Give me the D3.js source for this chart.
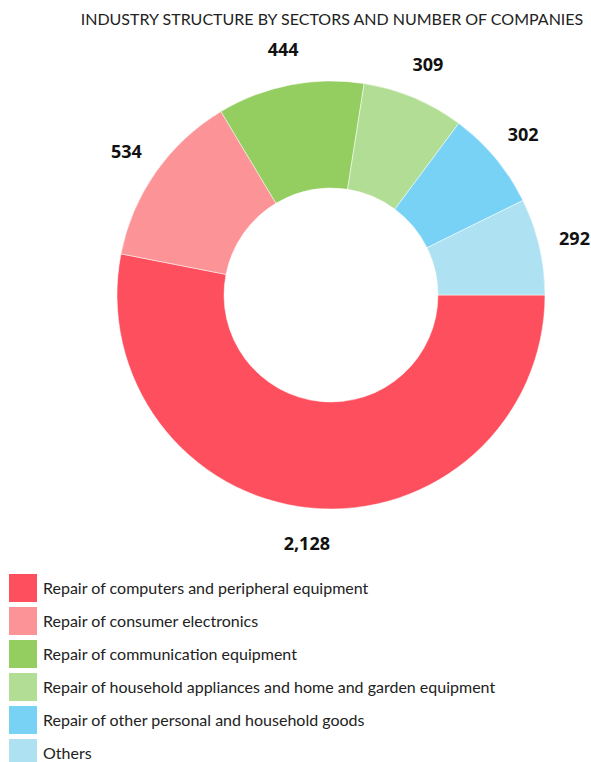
<!DOCTYPE html>
<html>
<head>
<meta charset="utf-8">
<script src="https://cdn.jsdelivr.net/npm/d3@7"></script>
<style>
  body { margin: 0; background: #fff; }
  svg { display: block; font-family: "Open Sans", sans-serif; }
</style>
</head>
<body>
<svg id="chart" width="591" height="762"></svg>
<script>
const title = 'INDUSTRY STRUCTURE BY SECTORS AND NUMBER OF COMPANIES';
const categories = [
  'Repair of computers and peripheral equipment',
  'Repair of consumer electronics',
  'Repair of communication equipment',
  'Repair of household appliances and home and garden equipment',
  'Repair of other personal and household goods',
  'Others'
];
const companies = [2128, 534, 444, 309, 302, 292];
const colours = ['#fd4f5d', '#fc9497', '#94cd60', '#b1de94', '#77d2f6', '#aee1f2'];

const svg = d3.select('#chart');
const cx = 331, cy = 295;
const outerR = 214, innerR = 107, labelR = 250;

svg.append('text')
  .attr('x', 332).attr('y', 25)
  .attr('text-anchor', 'middle')
  .attr('font-family', 'Lato, sans-serif')
  .attr('font-size', 16)
  .attr('fill', '#222')
  .text(title);

const data = categories.map((c, i) => ({ name: c, value: companies[i], colour: colours[i] }));

const pie = d3.pie()
  .sort(null)
  .value(d => d.value)
  .startAngle(Math.PI / 2)
  .endAngle(Math.PI / 2 + 2 * Math.PI);

const arc = d3.arc().innerRadius(innerR).outerRadius(outerR);
const labelArc = d3.arc().innerRadius(labelR).outerRadius(labelR);

const g = svg.append('g').attr('transform', `translate(${cx},${cy})`);
const arcs = pie(data);

g.selectAll('path')
  .data(arcs)
  .join('path')
  .attr('d', arc)
  .attr('fill', d => d.data.colour)
  .attr('stroke', '#fff')
  .attr('stroke-width', 0.5);

g.selectAll('text.val')
  .data(arcs)
  .join('text')
  .attr('class', 'val')
  .attr('transform', d => `translate(${labelArc.centroid(d)})`)
  .attr('text-anchor', 'middle')
  .attr('dy', '0.35em')
  .attr('font-size', 18)
  .attr('font-weight', 'bold')
  .attr('fill', '#111')
  .text(d => d3.format(',')(d.data.value));

// legend
const legend = svg.append('g').attr('transform', 'translate(9,574)');
const row = legend.selectAll('g')
  .data(data)
  .join('g')
  .attr('transform', (d, i) => `translate(0,${i * 33})`);

row.append('rect')
  .attr('width', 28).attr('height', 28)
  .attr('fill', d => d.colour);

row.append('text')
  .attr('x', 34).attr('y', 14.5)
  .attr('dy', '0.35em')
  .attr('font-family', 'Lato, sans-serif')
  .attr('font-size', 16)
  .attr('fill', '#222')
  .text(d => d.name);
</script>
</body>
</html>
